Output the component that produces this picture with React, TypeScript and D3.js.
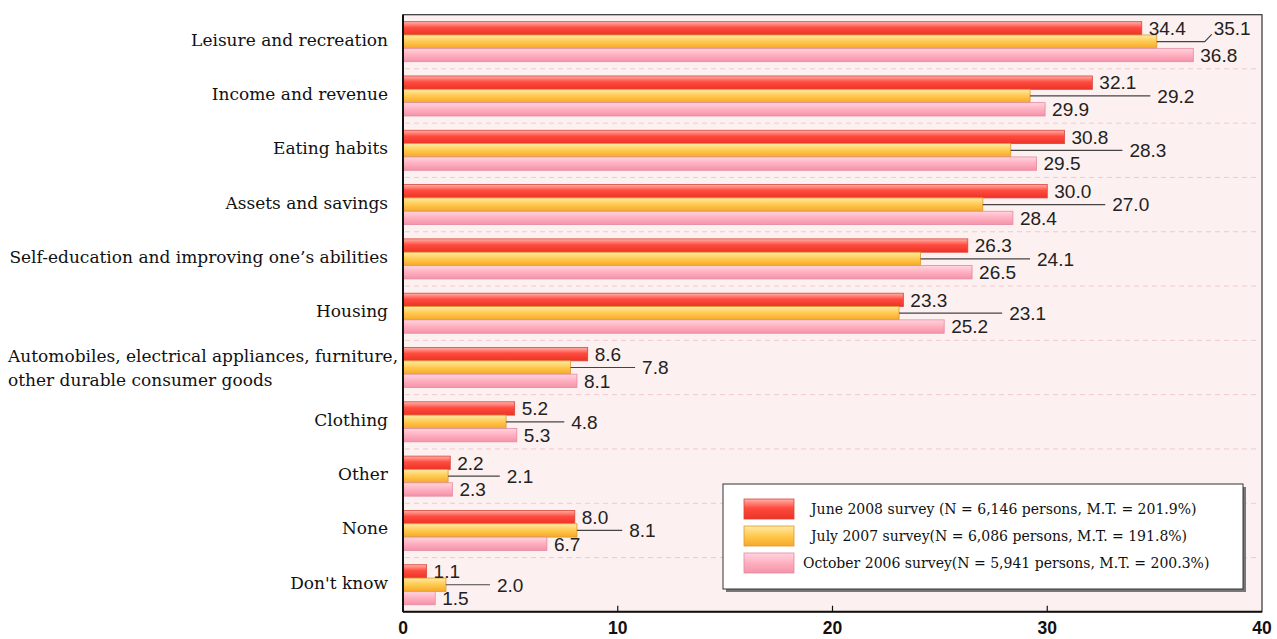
import React from "react";
import * as d3 from "d3";

const categories = [
  "Leisure and recreation",
  "Income and revenue",
  "Eating habits",
  "Assets and savings",
  "Self-education and improving one’s abilities",
  "Housing",
  "Automobiles, electrical appliances, furniture,\nother durable consumer goods",
  "Clothing",
  "Other",
  "None",
  "Don't know",
];

const june2008 = [34.4, 32.1, 30.8, 30.0, 26.3, 23.3, 8.6, 5.2, 2.2, 8.0, 1.1];
const july2007 = [35.1, 29.2, 28.3, 27.0, 24.1, 23.1, 7.8, 4.8, 2.1, 8.1, 2.0];
const oct2006 = [36.8, 29.9, 29.5, 28.4, 26.5, 25.2, 8.1, 5.3, 2.3, 6.7, 1.5];

const seriesKeys = ["june", "july", "oct"];
const legendLabels = [
  "June 2008 survey (N = 6,146 persons, M.T. = 201.9%)",
  "July 2007 survey(N = 6,086 persons, M.T. = 191.8%)",
  "October 2006 survey(N = 5,941 persons, M.T. = 200.3%)",
];
const xTicks = [0, 10, 20, 30, 40];

const W = 1277;
const H = 639;
const left = 403;
const right = 1262;
const top = 14.7;
const bottom = 611.7;

const valFont = 19;
const serif = "'DejaVu Serif', serif";
const sans = "'Liberation Sans', Arial, sans-serif";

// rough text width for the numeric labels (Arial metrics)
function numWidth(s: string) {
  let w = 0;
  for (const c of s) w += c === "." ? 0.278 : 0.556;
  return w * valFont;
}

export default function App() {
  const x = d3.scaleLinear().domain([0, 40]).range([left, right]);
  const y = d3
    .scaleBand<string>()
    .domain(categories)
    .range([top, bottom])
    .paddingInner(0.263)
    .paddingOuter(0.128);
  const sub = d3
    .scaleBand<string>()
    .domain(seriesKeys)
    .range([0, y.bandwidth()]);
  const bh = sub.bandwidth();

  const rows = categories.map((c, i) => ({
    cat: c,
    vals: [june2008[i], july2007[i], oct2006[i]],
  }));

  const sep = categories.slice(1).map((c) => {
    const y0 = y(c)!;
    return y0 - (y.step() - y.bandwidth()) / 2;
  });

  const fills = ["url(#gRed)", "url(#gYel)", "url(#gPink)"];
  const strokes = ["#d9453a", "#dc9a2c", "#e28aa0"];

  return (
    <svg
      width={W}
      height={H}
      style={{ position: "absolute", left: 0, top: 0, background: "#fff" }}
    >
      <defs>
        <linearGradient id="gRed" x1="0" y1="0" x2="0" y2="1">
          <stop offset="0" stopColor="#ffb2aa" />
          <stop offset="0.45" stopColor="#ff4b3f" />
          <stop offset="1" stopColor="#ec3327" />
        </linearGradient>
        <linearGradient id="gYel" x1="0" y1="0" x2="0" y2="1">
          <stop offset="0" stopColor="#ffeaa6" />
          <stop offset="0.5" stopColor="#ffc94e" />
          <stop offset="1" stopColor="#f6a82a" />
        </linearGradient>
        <linearGradient id="gPink" x1="0" y1="0" x2="0" y2="1">
          <stop offset="0" stopColor="#ffd6de" />
          <stop offset="0.5" stopColor="#ffafc0" />
          <stop offset="1" stopColor="#f493aa" />
        </linearGradient>
      </defs>

      {/* plot background */}
      <rect x={left} y={top} width={right - left} height={bottom - top} fill="#fdf0f0" />

      {sep.map((sy, i) => (
        <line
          key={i}
          x1={left + 2}
          x2={right - 2}
          y1={sy}
          y2={sy}
          stroke="#efc9cd"
          strokeDasharray="5,4"
          strokeWidth={1}
        />
      ))}

      {/* bars */}
      {rows.map((r) =>
        r.vals.map((v, j) => (
          <rect
            key={r.cat + j}
            x={x(0)}
            y={y(r.cat)! + sub(seriesKeys[j])!}
            width={x(v) - x(0)}
            height={bh}
            fill={fills[j]}
            stroke={strokes[j]}
            strokeWidth={0.8}
          />
        ))
      )}

      {/* value labels */}
      {rows.map((r) => {
        const y0 = y(r.cat)!;
        const cy = (k: number) => y0 + sub(seriesKeys[k])! + bh / 2;
        const txt = r.vals.map((v) => d3.format(".1f")(v));
        const redEnd = x(r.vals[0]) + 7 + numWidth(txt[0]);
        const pinkEnd = x(r.vals[2]) + 7 + numWidth(txt[2]);
        const yBar = x(r.vals[1]);
        const lineEnd = Math.max(redEnd, pinkEnd, yBar + 30) + 14;
        let lx = lineEnd + 7;
        let path = `M${yBar},${cy(1)}H${lineEnd}`;
        let ly = cy(1);
        if (lx + numWidth(txt[1]) > right) {
          lx = redEnd + 28;
          ly = cy(0);
          path = `M${yBar},${cy(1)}H${lx - 9}L${lx - 2},${cy(0) + 6}`;
        }
        return (
          <g key={r.cat + "lab"} fontFamily={sans} fontSize={valFont} fill="#222">
            <text x={x(r.vals[0]) + 7} y={cy(0)} dy="0.36em">
              {txt[0]}
            </text>
            <text x={x(r.vals[2]) + 7} y={cy(2)} dy="0.36em">
              {txt[2]}
            </text>
            <path d={path} fill="none" stroke="#444" strokeWidth={1.2} />
            <text x={lx} y={ly} dy="0.36em">
              {txt[1]}
            </text>
          </g>
        );
      })}

      {/* frame */}
      <rect
        x={left}
        y={top}
        width={right - left}
        height={bottom - top}
        fill="none"
        stroke="#333"
        strokeWidth={1.2}
      />
      <line x1={left} x2={left} y1={top} y2={bottom} stroke="#111" strokeWidth={2} />
      <line x1={left} x2={right} y1={bottom} y2={bottom} stroke="#111" strokeWidth={2} />

      {/* x ticks */}
      {xTicks.map((t) => (
        <g key={t}>
          {t > 0 && t < 40 && (
            <line x1={x(t)} x2={x(t)} y1={bottom} y2={bottom - 6} stroke="#111" strokeWidth={1.2} />
          )}
          <text
            x={x(t)}
            y={634}
            textAnchor="middle"
            fontFamily={sans}
            fontWeight="bold"
            fontSize={17.5}
            fill="#111"
          >
            {t}
          </text>
        </g>
      ))}

      {/* category labels */}
      {categories.map((c) => {
        const cy = y(c)! + y.bandwidth() / 2;
        const lines = c.split("\n");
        if (lines.length > 1) {
          return (
            <text key={c} fontFamily={serif} fontSize={17} fill="#111">
              <tspan x={8} y={cy - 11} dy="0.35em">
                {lines[0]}
              </tspan>
              <tspan x={8} y={cy + 13} dy="0.35em">
                {lines[1]}
              </tspan>
            </text>
          );
        }
        return (
          <text
            key={c}
            x={388}
            y={cy - 2}
            dy="0.35em"
            textAnchor="end"
            fontFamily={serif}
            fontSize={17}
            fill="#111"
          >
            {c}
          </text>
        );
      })}

      {/* legend */}
      <g>
        <rect x={726} y={487} width={520} height={105} fill="#777" />
        <rect x={723} y={484} width={520} height={105} fill="#fff" stroke="#333" strokeWidth={1} />
        {legendLabels.map((l, i) => {
          const ry = 499 + i * 27;
          return (
            <g key={l}>
              <rect x={744} y={ry} width={50} height={20} fill={fills[i]} stroke={strokes[i]} strokeWidth={0.8} />
              <text
                x={i === 2 ? 803 : 811}
                y={ry + 10}
                dy="0.35em"
                fontFamily={serif}
                fontSize={14}
                fill="#111"
              >
                {l}
              </text>
            </g>
          );
        })}
      </g>
    </svg>
  );
}
